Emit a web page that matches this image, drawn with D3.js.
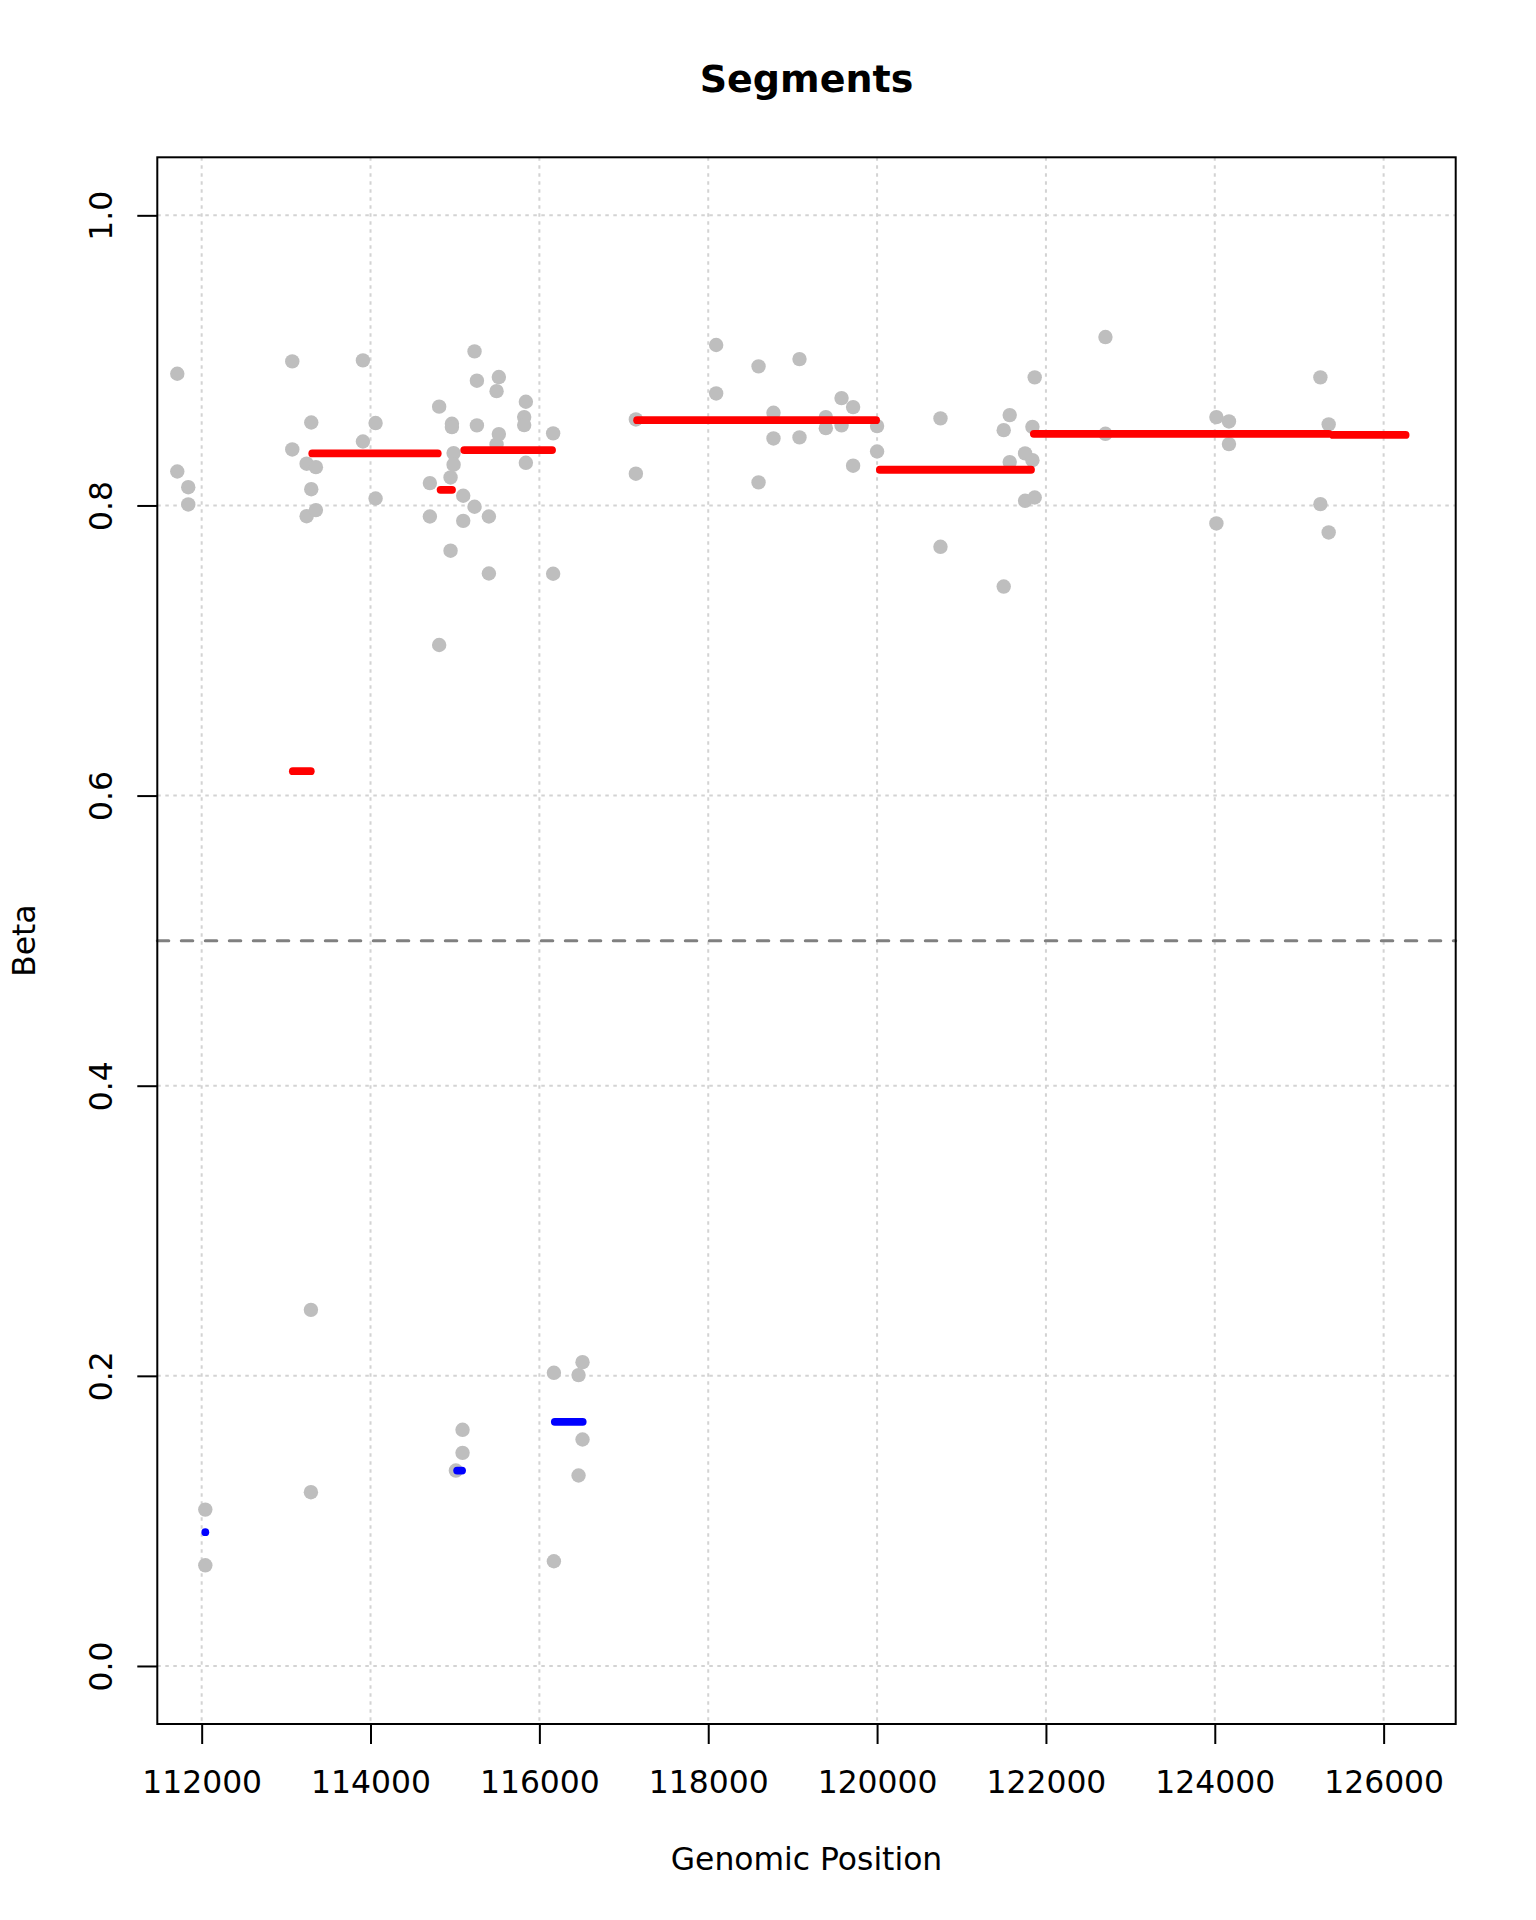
<!DOCTYPE html>
<html>
<head>
<meta charset="utf-8">
<script src="https://cdn.jsdelivr.net/npm/d3@7"></script>
<style>
  body { margin: 0; background: #fff; }
  svg { display: block; font-family: "DejaVu Sans", sans-serif; }
</style>
</head>
<body>
<script>
// Probe positions and beta values (gray points).
var posX = [
  111711, 111711, 111841, 111841, 112043, 112043,
  113073, 113073, 113243, 113243, 113298, 113298, 113294, 113294, 113353, 113353,
  113910, 113910, 114060, 114060, 114703, 114703, 114813, 114813,
  114948, 114964, 114964, 114984, 114984, 114948,
  115011, 115090, 115090, 115098, 115098, 115232, 115232, 115260, 115260,
  115402, 115402, 115493, 115493, 115520, 115520, 115820, 115820, 115840, 115840,
  116163, 116163, 116172, 116172, 116464, 116464, 116511, 116511,
  117143, 117143, 118094, 118094, 118596, 118596, 118773, 118773,
  119081, 119081, 119393, 119393, 119579, 119579, 119716, 119716, 120000, 120000,
  120751, 120751, 121500, 121500, 121571, 121571, 121753, 121753,
  121840, 121840, 121867, 121867, 122705, 122705,
  124019, 124019, 124168, 124168, 125251, 125251, 125349, 125349
];
var betaY = [
  0.8908, 0.8234, 0.8126, 0.8007, 0.1078, 0.0694,
  0.8993, 0.8386, 0.8288, 0.7926, 0.8572, 0.8112, 0.2455, 0.1198, 0.8264, 0.7968,
  0.9000, 0.8441, 0.8568, 0.8048, 0.8154, 0.7924, 0.8681, 0.7038,
  0.7688, 0.8563, 0.8540, 0.8361, 0.8281, 0.8193,
  0.1347, 0.1628, 0.1469, 0.8067, 0.7894, 0.9062, 0.7991, 0.8860, 0.8552,
  0.7924, 0.7531, 0.8788, 0.8421, 0.8885, 0.8492, 0.8609, 0.8554, 0.8715, 0.8294,
  0.8497, 0.7529, 0.2021, 0.0722, 0.2005, 0.1313, 0.2094, 0.1561,
  0.8593, 0.8219, 0.9106, 0.8772, 0.8959, 0.8159, 0.8639, 0.8462,
  0.9009, 0.8469, 0.8609, 0.8533, 0.8740, 0.8552, 0.8678, 0.8274, 0.8547, 0.8372,
  0.8600, 0.7715, 0.8519, 0.7441, 0.8623, 0.8299, 0.8359, 0.8032,
  0.8312, 0.8542, 0.8055, 0.8883, 0.9161, 0.8494,
  0.8609, 0.7876, 0.8579, 0.8423, 0.8883, 0.8009, 0.8559, 0.7814
];

// Segments: start, end, mean beta.
var segStart = [113080, 113310, 114830, 115110, 117158, 120033, 121857, 125400, 112043, 115026, 116183];
var segEnd   = [113292, 114796, 114965, 116150, 119988, 121823, 125350, 126260, 112043, 115084, 116513];
var segMean  = [0.6168, 0.8359, 0.8108, 0.8382, 0.8588, 0.8246, 0.8494, 0.8486, 0.0922, 0.1347, 0.1683];

// Axis ticks and limits.
var xTicks = [112000, 114000, 116000, 118000, 120000, 122000, 124000, 126000];
var yTicks = [0, 0.2, 0.4, 0.6, 0.8, 1.0];
var xLim = [112044, 126284];
var yLim = [0, 1];

var W = 1536, H = 1920;
var plotL = 157.3, plotR = 1455.7, plotT = 157.3, plotB = 1724;
var fontSize = "31.4px";

var xPad = 0.04 * (xLim[1] - xLim[0]);
var yPad = 0.04 * (yLim[1] - yLim[0]);

var x = d3.scaleLinear().domain([xLim[0] - xPad, xLim[1] + xPad]).range([plotL, plotR]);
var y = d3.scaleLinear().domain([yLim[0] - yPad, yLim[1] + yPad]).range([plotB, plotT]);

var svg = d3.select("body").append("svg")
    .attr("width", W)
    .attr("height", H);

// Dotted grid.
var grid = svg.append("g").attr("stroke", "#d3d3d3").attr("stroke-width", 2)
    .attr("stroke-dasharray", "3.5,4.5");
grid.selectAll("line.gx").data(xTicks).join("line")
    .attr("class", "gx")
    .attr("x1", d => x(d)).attr("x2", d => x(d))
    .attr("y1", plotT).attr("y2", plotB);
grid.selectAll("line.gy").data(yTicks).join("line")
    .attr("class", "gy")
    .attr("x1", plotL).attr("x2", plotR)
    .attr("y1", d => y(d)).attr("y2", d => y(d));

// Points.
svg.append("g").selectAll("circle")
    .data(posX.map((p, i) => [p, betaY[i]]))
    .join("circle")
    .attr("cx", d => x(d[0]))
    .attr("cy", d => y(d[1]))
    .attr("r", 7.2)
    .attr("fill", "#bebebe");

// Reference line at 0.5.
svg.append("line")
    .attr("x1", plotL).attr("x2", plotR)
    .attr("y1", y(0.5)).attr("y2", y(0.5))
    .attr("stroke", "#808080")
    .attr("stroke-width", 3)
    .attr("stroke-linecap", "round")
    .attr("stroke-dasharray", "11.5,12.5");

// Segment means.
svg.append("g").selectAll("line")
    .data(segMean.map((m, i) => [segStart[i], segEnd[i], m]))
    .join("line")
    .attr("x1", d => x(d[0])).attr("x2", d => x(d[1]))
    .attr("y1", d => y(d[2])).attr("y2", d => y(d[2]))
    .attr("stroke", d => d[2] > 0.5 ? "#ff0000" : "#0000ff")
    .attr("stroke-width", 7.8)
    .attr("stroke-linecap", "round");

// Axes.
var xAxis = svg.append("g")
    .attr("transform", "translate(0," + plotB + ")")
    .call(d3.axisBottom(x).tickValues(xTicks).tickFormat(d3.format("d")).tickSize(20).tickSizeOuter(0));
xAxis.select(".domain").remove();
xAxis.selectAll("line").attr("stroke", "#000").attr("stroke-width", 2);
xAxis.selectAll("text")
    .attr("y", 69).attr("dy", null)
    .attr("fill", "#000")
    .style("font-size", fontSize)
    .style("font-family", "DejaVu Sans");

var yAxis = svg.append("g")
    .attr("transform", "translate(" + plotL + ",0)")
    .call(d3.axisLeft(y).tickValues(yTicks).tickFormat(d3.format(".1f")).tickSize(20).tickSizeOuter(0));
yAxis.select(".domain").remove();
yAxis.selectAll("line").attr("stroke", "#000").attr("stroke-width", 2);
yAxis.selectAll("text")
    .attr("x", null).attr("dy", null)
    .attr("text-anchor", "middle")
    .attr("transform", "translate(-45.3,0) rotate(-90)")
    .attr("fill", "#000")
    .style("font-size", fontSize)
    .style("font-family", "DejaVu Sans");

// Plot box.
svg.append("rect")
    .attr("x", plotL).attr("y", plotT)
    .attr("width", plotR - plotL).attr("height", plotB - plotT)
    .attr("fill", "none")
    .attr("stroke", "#000")
    .attr("stroke-width", 2);

// Titles.
svg.append("text")
    .attr("x", (plotL + plotR) / 2).attr("y", 91.5)
    .attr("text-anchor", "middle")
    .style("font-size", "38px").style("font-weight", "bold")
    .text("Segments");

svg.append("text")
    .attr("x", (plotL + plotR) / 2).attr("y", 1870)
    .attr("text-anchor", "middle")
    .style("font-size", fontSize)
    .text("Genomic Position");

svg.append("text")
    .attr("transform", "translate(35," + (plotT + plotB) / 2 + ") rotate(-90)")
    .attr("text-anchor", "middle")
    .style("font-size", fontSize)
    .text("Beta");
</script>
</body>
</html>
